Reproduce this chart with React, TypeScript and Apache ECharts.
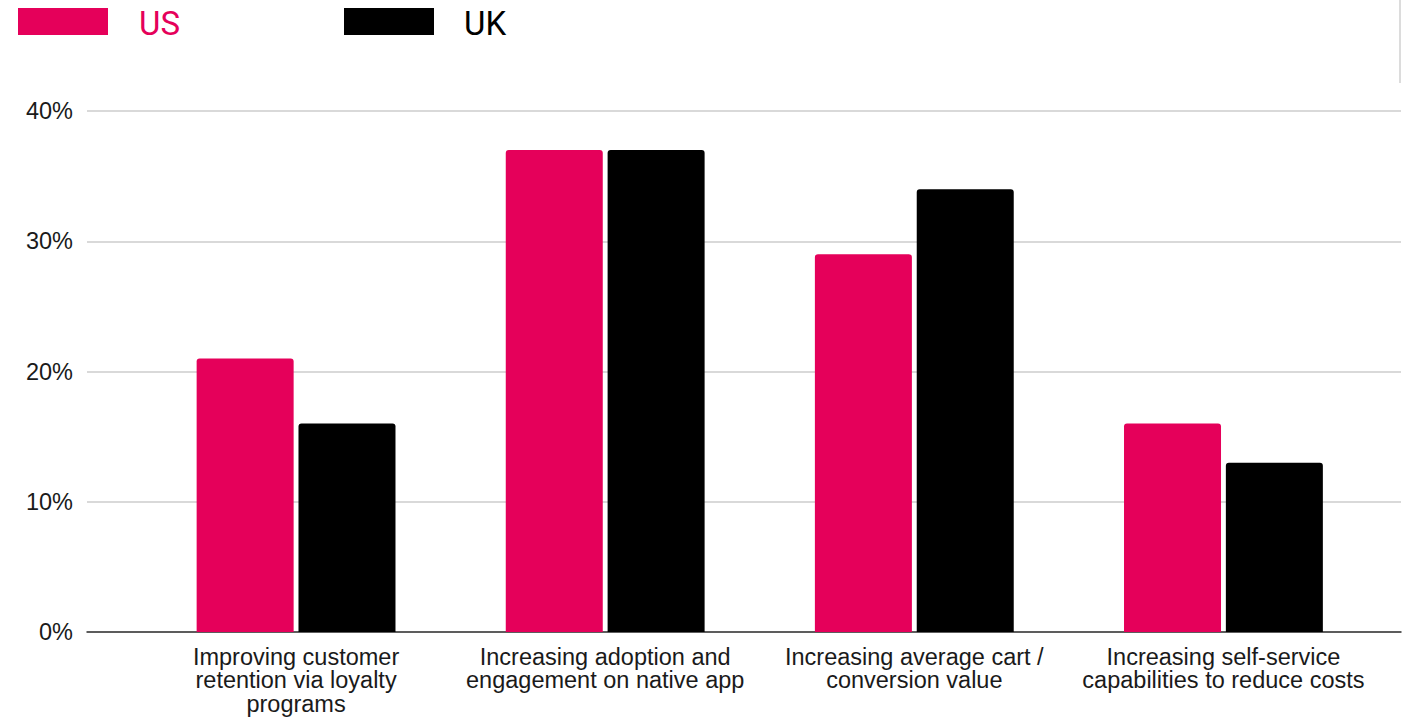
import React, { useEffect, useRef } from "react";
import * as echarts from "echarts";

// Survey answers (% of respondents) per priority, US vs UK
const categories = [
  "Improving customer\nretention via loyalty\nprograms",
  "Increasing adoption and\nengagement on native app",
  "Increasing average cart /\nconversion value",
  "Increasing self-service\ncapabilities to reduce costs",
];
const usValues = [21, 37, 29, 16];
const ukValues = [16, 37, 34, 13];
const yTicks = { min: 0, max: 40, interval: 10 };

const US_COLOR = "#E5005A";
const UK_COLOR = "#000000";
const AXIS_FONT = "'Liberation Sans', Arial, Helvetica, sans-serif";
const LEGEND_FONT = "Roboto, 'Liberation Sans', Arial, sans-serif";

export default function App() {
  const ref = useRef<HTMLDivElement>(null);

  useEffect(() => {
    if (!ref.current) return;
    const chart = echarts.init(ref.current, null, { renderer: "svg" });
    chart.setOption({
      animation: false,
      backgroundColor: "#ffffff",
      grid: [
        // frame: value gridlines and the baseline across the full width
        { left: 87, right: 4, top: 111, bottom: 86 },
        // bars sit in a slightly narrower band
        { left: 141.5, right: 27, top: 111, bottom: 86 },
      ],
      xAxis: [
        {
          gridIndex: 0,
          type: "category",
          data: [""],
          axisLine: { show: true, lineStyle: { color: "#333333", width: 1.5 } },
          axisTick: { show: false },
          axisLabel: { show: false },
        },
        {
          gridIndex: 1,
          type: "category",
          data: categories,
          axisLine: { show: false },
          axisTick: { show: false },
          axisLabel: {
            interval: 0,
            margin: 13,
            color: "#1a1a1a",
            fontFamily: AXIS_FONT,
            fontSize: 23.5,
            lineHeight: 23.5,
          },
        },
      ],
      yAxis: [
        {
          gridIndex: 0,
          type: "value",
          min: yTicks.min,
          max: yTicks.max,
          interval: yTicks.interval,
          axisLine: { show: false },
          axisTick: { show: false },
          axisLabel: {
            formatter: "{value}%",
            margin: 14,
            color: "#1a1a1a",
            fontFamily: AXIS_FONT,
            fontSize: 23.5,
          },
          splitLine: { show: true, lineStyle: { color: "#cccccc", width: 1.5 } },
        },
        {
          gridIndex: 1,
          type: "value",
          min: yTicks.min,
          max: yTicks.max,
          interval: yTicks.interval,
          show: false,
          splitLine: { show: false },
        },
      ],
      series: [
        {
          name: "US",
          type: "bar",
          xAxisIndex: 1,
          yAxisIndex: 1,
          data: usValues,
          barWidth: 97,
          barGap: "5%",
          itemStyle: { color: US_COLOR, borderRadius: [3, 3, 0, 0] },
        },
        {
          name: "UK",
          type: "bar",
          xAxisIndex: 1,
          yAxisIndex: 1,
          data: ukValues,
          barWidth: 97,
          barGap: "5%",
          itemStyle: { color: UK_COLOR, borderRadius: [3, 3, 0, 0] },
        },
      ],
      graphic: [
        { type: "rect", shape: { x: 18, y: 8, width: 90, height: 27 }, style: { fill: US_COLOR } },
        {
          type: "text",
          x: 139,
          y: 23,
          style: {
            text: "US",
            fill: US_COLOR,
            font: `400 33px ${LEGEND_FONT}`,
            textVerticalAlign: "middle",
          },
        },
        { type: "rect", shape: { x: 344, y: 8, width: 90, height: 27 }, style: { fill: UK_COLOR } },
        {
          type: "text",
          x: 464,
          y: 23,
          style: {
            text: "UK",
            fill: UK_COLOR,
            font: `400 33px ${LEGEND_FONT}`,
            textVerticalAlign: "middle",
          },
        },
        {
          type: "line",
          shape: { x1: 1400, y1: 0, x2: 1400, y2: 83 },
          style: { stroke: "#d0d0d0", lineWidth: 1.5 },
        },
      ],
    });
    return () => chart.dispose();
  }, []);

  return (
    <div
      ref={ref}
      style={{ position: "absolute", left: 0, top: 0, width: 1405, height: 718 }}
    />
  );
}
